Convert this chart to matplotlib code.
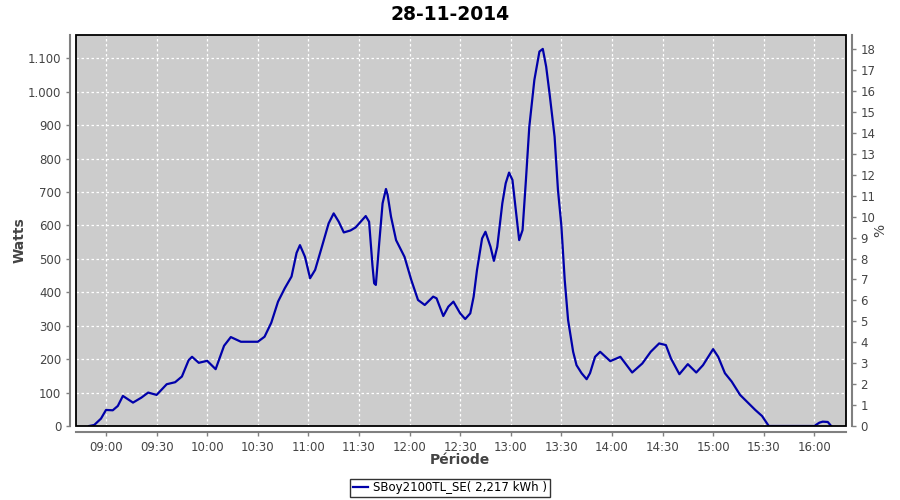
import numpy as np
import pandas as pd
import matplotlib
matplotlib.use('Agg')
import matplotlib.pyplot as plt
import matplotlib.dates as mdates
from matplotlib.ticker import MultipleLocator, FuncFormatter
from matplotlib.patches import Rectangle

day = "2014-11-28"
title = "28-11-2014"
series_name = "SBoy2100TL_SE( 2,217 kWh )"

times = ["08:50", "08:53", "08:57", "09:00", "09:04", "09:07", "09:10", "09:13", "09:16",
         "09:21", "09:25", "09:30", "09:36", "09:41", "09:45", "09:49", "09:51", "09:55",
         "10:00", "10:05", "10:10", "10:14", "10:20", "10:30", "10:34", "10:38", "10:42",
         "10:46", "10:50", "10:53", "10:55", "10:58", "11:01", "11:04", "11:08", "11:12",
         "11:15", "11:18", "11:21", "11:25", "11:28", "11:31", "11:34", "11:36", "11:38",
         "11:39", "11:40", "11:42", "11:44", "11:46", "11:47", "11:49", "11:52", "11:57",
         "12:01", "12:05", "12:09", "12:14", "12:16", "12:20", "12:23", "12:26", "12:30",
         "12:33", "12:36", "12:38", "12:40", "12:43", "12:45", "12:48", "12:50", "12:52",
         "12:55", "12:57", "12:59", "13:01", "13:03", "13:05", "13:07", "13:09", "13:11",
         "13:14", "13:17", "13:19", "13:21", "13:23", "13:26", "13:28", "13:30", "13:32",
         "13:34", "13:37", "13:39", "13:42", "13:45", "13:47", "13:50", "13:53", "13:59",
         "14:05", "14:12", "14:18", "14:23", "14:28", "14:32", "14:35", "14:40", "14:45",
         "14:50", "14:54", "15:00", "15:03", "15:07", "15:11", "15:16", "15:21", "15:25",
         "15:29", "15:33", "16:00", "16:03", "16:05", "16:08", "16:10"]
watts = [0, 3, 22, 48, 47, 60, 90, 80, 70,
         85, 100, 93, 125, 131, 148, 197, 207, 189,
         195, 170, 240, 266, 252, 252, 267, 309, 372,
         412, 447, 518, 541, 506, 442, 467, 536, 606,
         636, 611, 579, 585, 594, 611, 628, 611, 480,
         427, 422, 547, 666, 709, 691, 626, 556, 506,
         437, 377, 362, 387, 382, 329, 357, 372, 337,
         320, 337, 387, 467, 561, 581, 536, 494, 536,
         666, 726, 758, 736, 646, 556, 586, 736, 895,
         1035, 1120, 1128, 1075, 995, 865, 706, 600, 437,
         317, 222, 182, 158, 140, 158, 207, 222, 194,
         207, 160, 187, 222, 247, 242, 202, 155, 185,
         160, 182, 230, 207, 158, 133, 93, 68, 48,
         30, 0, 0, 10, 13, 12, 0]

x = pd.to_datetime([f"{day} {t}" for t in times])

fig = plt.figure(figsize=(9, 5), dpi=100)
ax = fig.add_axes([76 / 900, 74 / 500, 770 / 900, 391 / 500])
ax.set_facecolor('#cccccc')
ax.plot(x, watts, color='#0000aa', lw=1.6, zorder=3)

ax.set_xlim(pd.Timestamp(f"{day} 08:42:12"), pd.Timestamp(f"{day} 16:18:48"))
ax.set_ylim(0, 1169.6)
ax.yaxis.set_major_locator(MultipleLocator(100))
ax.yaxis.set_major_formatter(FuncFormatter(lambda v, p: f"{v:,.0f}".replace(',', '.')))
ax.xaxis.set_major_locator(mdates.MinuteLocator(byminute=[0, 30]))
ax.xaxis.set_major_formatter(mdates.DateFormatter('%H:%M'))
ax.grid(color='white', linestyle=(0, (2, 2)), linewidth=0.9)
ax.set_axisbelow(True)

for s in ['top', 'right']:
    ax.spines[s].set_visible(False)
for s in ['left', 'bottom']:
    ax.spines[s].set_position(('outward', 4))
    ax.spines[s].set_color('#808080')
    ax.spines[s].set_linewidth(1.5)
ax.tick_params(colors='#808080', labelcolor='#444444', labelsize=8.5, length=3, width=1)
ax.add_patch(Rectangle((0, 0), 1, 1, transform=ax.transAxes, fill=False,
                       ec='black', lw=1.3, zorder=5, clip_on=False))

ax2 = ax.twinx()
ax2.set_ylim(0, 18.68)
ax2.yaxis.set_major_locator(MultipleLocator(1))
for s in ['top', 'left', 'bottom']:
    ax2.spines[s].set_visible(False)
ax2.spines['right'].set_position(('outward', 4))
ax2.spines['right'].set_color('#808080')
ax2.spines['right'].set_linewidth(1.5)
ax2.tick_params(colors='#808080', labelcolor='#444444', labelsize=8.5, length=3, width=1)

fig.text(0.5, 1 - 14 / 500, title, ha='center', va='center', fontsize=13.5, fontweight='bold')
fig.text(20 / 900, 1 - 240 / 500, 'Watts', rotation=90, ha='center', va='center',
         fontsize=10, fontweight='bold', color='#444444')
fig.text(460 / 900, 1 - 460 / 500, 'Période', ha='center', va='center',
         fontsize=10, fontweight='bold', color='#444444')
fig.text(880 / 900, 1 - 230 / 500, '%', rotation=90, ha='center', va='center',
         fontsize=10, color='#444444')

leg = fig.legend([plt.Line2D([], [], color='#0000aa', lw=1.6)], [series_name],
                 loc='center', bbox_to_anchor=(450 / 900, 1 - 488 / 500),
                 fontsize=8.5, frameon=True, fancybox=False, handlelength=1.3,
                 handletextpad=0.4, borderpad=0.25, borderaxespad=0)
leg.get_frame().set_edgecolor('black')
leg.get_frame().set_linewidth(1)

fig.savefig('out.png', dpi=100)
